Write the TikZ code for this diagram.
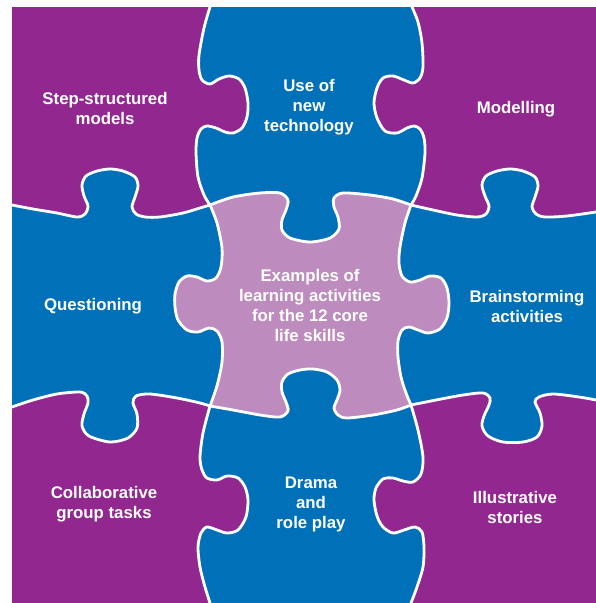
\documentclass[tikz,border=0pt]{standalone}
\usepackage{fontspec}
\setmainfont{Liberation Sans}
\definecolor{puzzlepurple}{RGB}{146,39,143}
\definecolor{puzzleblue}{RGB}{0,113,185}
\definecolor{puzzlelight}{RGB}{189,139,189}
\begin{document}
\begin{tikzpicture}[x=1pt,y=-1pt,
    piece/.style={draw=white,line width=2.8pt,line join=round},
    word/.style={text=white,align=center,font=\bfseries\fontsize{16.8}{20}\selectfont}]
    \useasboundingbox (0,0) rectangle (596,603);
    \begin{scope}
        \clip (12,7) rectangle (596,603);
        \fill[puzzleblue] (12,7) rectangle (596,603);
        % top left
        \filldraw[fill=puzzlepurple,piece] (0,0) -- (210,0)
            -- plot[smooth] coordinates {(210,7) (204,28) (199,55) (199,70) (202,80) (210,84) (219,79) (229,76) (239,79) (245,88) (248,103) (247,117) (242,128) (233,133) (225,132) (216,128) (207,126) (201,129) (197,138) (196,153) (198,177) (204,195) (210,205)}
            -- plot[smooth] coordinates {(210,205) (200,208) (183,213) (160,217) (145,217) (136,214) (132,207) (135,197) (138,186) (135,177) (123,171) (110,169) (97,171) (86,176) (82,185) (84,196) (88,206) (85,214) (77,217) (57,213) (33,209) (12,205)}
            -- (0,205) -- cycle;
        % top right
        \filldraw[fill=puzzlepurple,piece] (412,0)
            -- plot[smooth] coordinates {(412,7) (418,22) (422,43) (423,67) (420,78) (413,83) (404,80) (393,76) (383,78) (377,88) (374,103) (377,118) (385,131) (397,133) (407,128) (414,126) (420,129) (424,138) (425,153) (422,178) (416,196) (411,205)}
            -- plot[smooth] coordinates {(411,205) (433,210) (457,215) (477,217) (486,214) (489,206) (485,196) (482,185) (486,176) (497,171) (510,169) (523,171) (535,177) (538,186) (535,197) (532,207) (536,214) (545,217) (567,216) (596,212)}
            -- (610,212) -- (610,0) -- cycle;
        % bottom left
        \filldraw[fill=puzzlepurple,piece] (0,407)
            -- plot[smooth] coordinates {(12,407) (33,400) (57,394) (80,392) (87,396) (88,403) (84,414) (82,426) (89,436) (110,442) (128,438) (137,428) (137,414) (133,403) (136,396) (150,394) (177,398) (200,403) (210,406)}
            -- plot[smooth] coordinates {(210,406) (203,433) (200,457) (202,470) (207,478) (217,480) (227,476) (238,478) (245,487) (248,500) (246,517) (238,530) (227,533) (217,530) (207,527) (201,533) (198,547) (200,567) (205,587) (210,603)}
            -- (210,615) -- (0,615) -- cycle;
        % bottom right
        \filldraw[fill=puzzlepurple,piece]
            plot[smooth] coordinates {(411,405) (418,430) (423,457) (421,474) (413,482) (403,481) (393,478) (383,479) (376,488) (374,500) (377,516) (383,527) (393,533) (404,530) (415,527) (422,532) (424,547) (423,567) (417,587) (411,603)}
            -- (411,615) -- (610,615) -- (610,400)
            -- plot[smooth] coordinates {(596,400) (579,397) (553,394) (539,397) (535,402) (540,413) (542,426) (537,437) (523,442) (503,442) (488,436) (482,426) (484,416) (489,405) (490,398) (483,393) (463,395) (436,400) (411,405)}
            -- cycle;
        % centre
        \filldraw[fill=puzzlelight,piece]
            plot[smooth] coordinates {(210,205) (233,197) (260,193) (280,193) (288,200) (286,210) (282,220) (282,230) (290,238) (310,242) (330,238) (339,229) (338,217) (334,207) (334,198) (343,193) (370,195) (393,199) (411,205)}
            -- plot[smooth] coordinates {(411,205) (405,223) (400,247) (399,263) (402,276) (410,282) (420,280) (430,276) (441,278) (447,288) (449,303) (447,318) (440,329) (428,333) (418,330) (409,327) (402,330) (398,341) (398,357) (401,377) (406,393) (411,405)}
            -- plot[smooth] coordinates {(411,405) (397,410) (373,415) (347,418) (338,415) (334,408) (337,400) (340,390) (337,380) (327,372) (313,369) (300,370) (288,374) (282,382) (282,392) (286,402) (288,411) (280,417) (260,415) (233,410) (210,406)}
            -- plot[smooth] coordinates {(210,406) (214,395) (218,382) (222,362) (222,342) (217,331) (209,328) (198,332) (187,330) (178,320) (175,307) (175,294) (179,282) (187,276) (197,277) (207,281) (216,278) (221,267) (222,248) (217,223) (210,205)}
            -- cycle;
    \end{scope}
    \node[word] (steps) at (105,108) {Step-structured\\models};
    \node[word] (usetech) at (309,107) {Use of\\new\\technology};
    \node[word] (modelling) at (516,109) {Modelling};
    \node[word] (questioning) at (93,306) {Questioning};
    \node[word] (examples) at (310,305) {Examples of\\learning activities\\for the 12 core\\life skills};
    \node[word] (brainstorming) at (527,306) {Brainstorming\\activities};
    \node[word] (collab) at (104,504) {Collaborative\\group tasks};
    \node[word] (drama) at (311,504) {Drama\\and\\role play};
    \node[word] (illustrative) at (515,507) {Illustrative\\stories};
\end{tikzpicture}
\end{document}
